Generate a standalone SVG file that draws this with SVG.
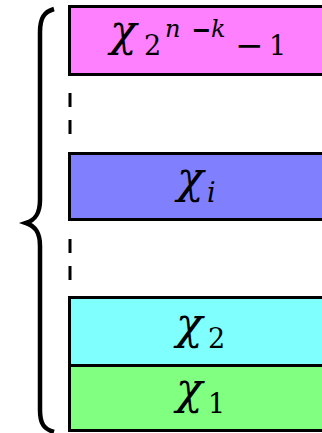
<svg xmlns="http://www.w3.org/2000/svg" width="322" height="433" viewBox="0 0 322 433">
<style>
.box{stroke:#000;stroke-width:3}
.t{font-family:"DejaVu Serif","Liberation Serif",serif;font-style:italic;fill:#000}
.up{font-style:normal}
.dash{stroke:#000;stroke-width:3;stroke-dasharray:14 13}
</style>
<rect width="322" height="433" fill="#fff"/>
<g id="brace">
<path d="M54,9 C44,12 40,18 40,32 L40,200 C40,214 35,220 26,223 C35,226 40,232 40,246 L40,410 C40,424 44,429 54,432" fill="none" stroke="#000" stroke-width="4.5"/>
</g>
<g id="connectors">
<line class="dash" x1="70" y1="93" x2="70" y2="134"/>
<line class="dash" x1="70" y1="239" x2="70" y2="280"/>
</g>
<g id="node-top">
<rect class="box" x="69.5" y="6.5" width="260" height="68" fill="#ff80ff"/>
<text class="t" font-size="44"><tspan x="110" y="46">χ</tspan><tspan class="up" font-size="27" x="144" y="55">2</tspan><tspan font-size="24" x="165" y="37">n</tspan><tspan class="up" font-size="30" font-weight="bold" font-family="Liberation Sans,sans-serif" x="193" y="39">–</tspan><tspan font-size="24" x="211" y="37">k</tspan><tspan class="up" font-size="34" x="235" y="57">−</tspan><tspan class="up" font-size="27" x="269" y="55">1</tspan></text>
</g>
<g id="node-i">
<rect class="box" x="69.5" y="153.5" width="260" height="66" fill="#8080ff"/>
<text class="t" font-size="44"><tspan x="177" y="193">χ</tspan><tspan font-size="27" x="207" y="202">i</tspan></text>
</g>
<g id="node-2">
<rect class="box" x="69.5" y="297.5" width="260" height="68" fill="#80ffff"/>
<text class="t" font-size="44"><tspan x="176" y="339">χ</tspan><tspan class="up" font-size="27" x="208" y="348">2</tspan></text>
</g>
<g id="node-1">
<rect class="box" x="69.5" y="365.5" width="260" height="65" fill="#80ff80"/>
<text class="t" font-size="44"><tspan x="176" y="404">χ</tspan><tspan class="up" font-size="27" x="208" y="413">1</tspan></text>
</g>
</svg>
